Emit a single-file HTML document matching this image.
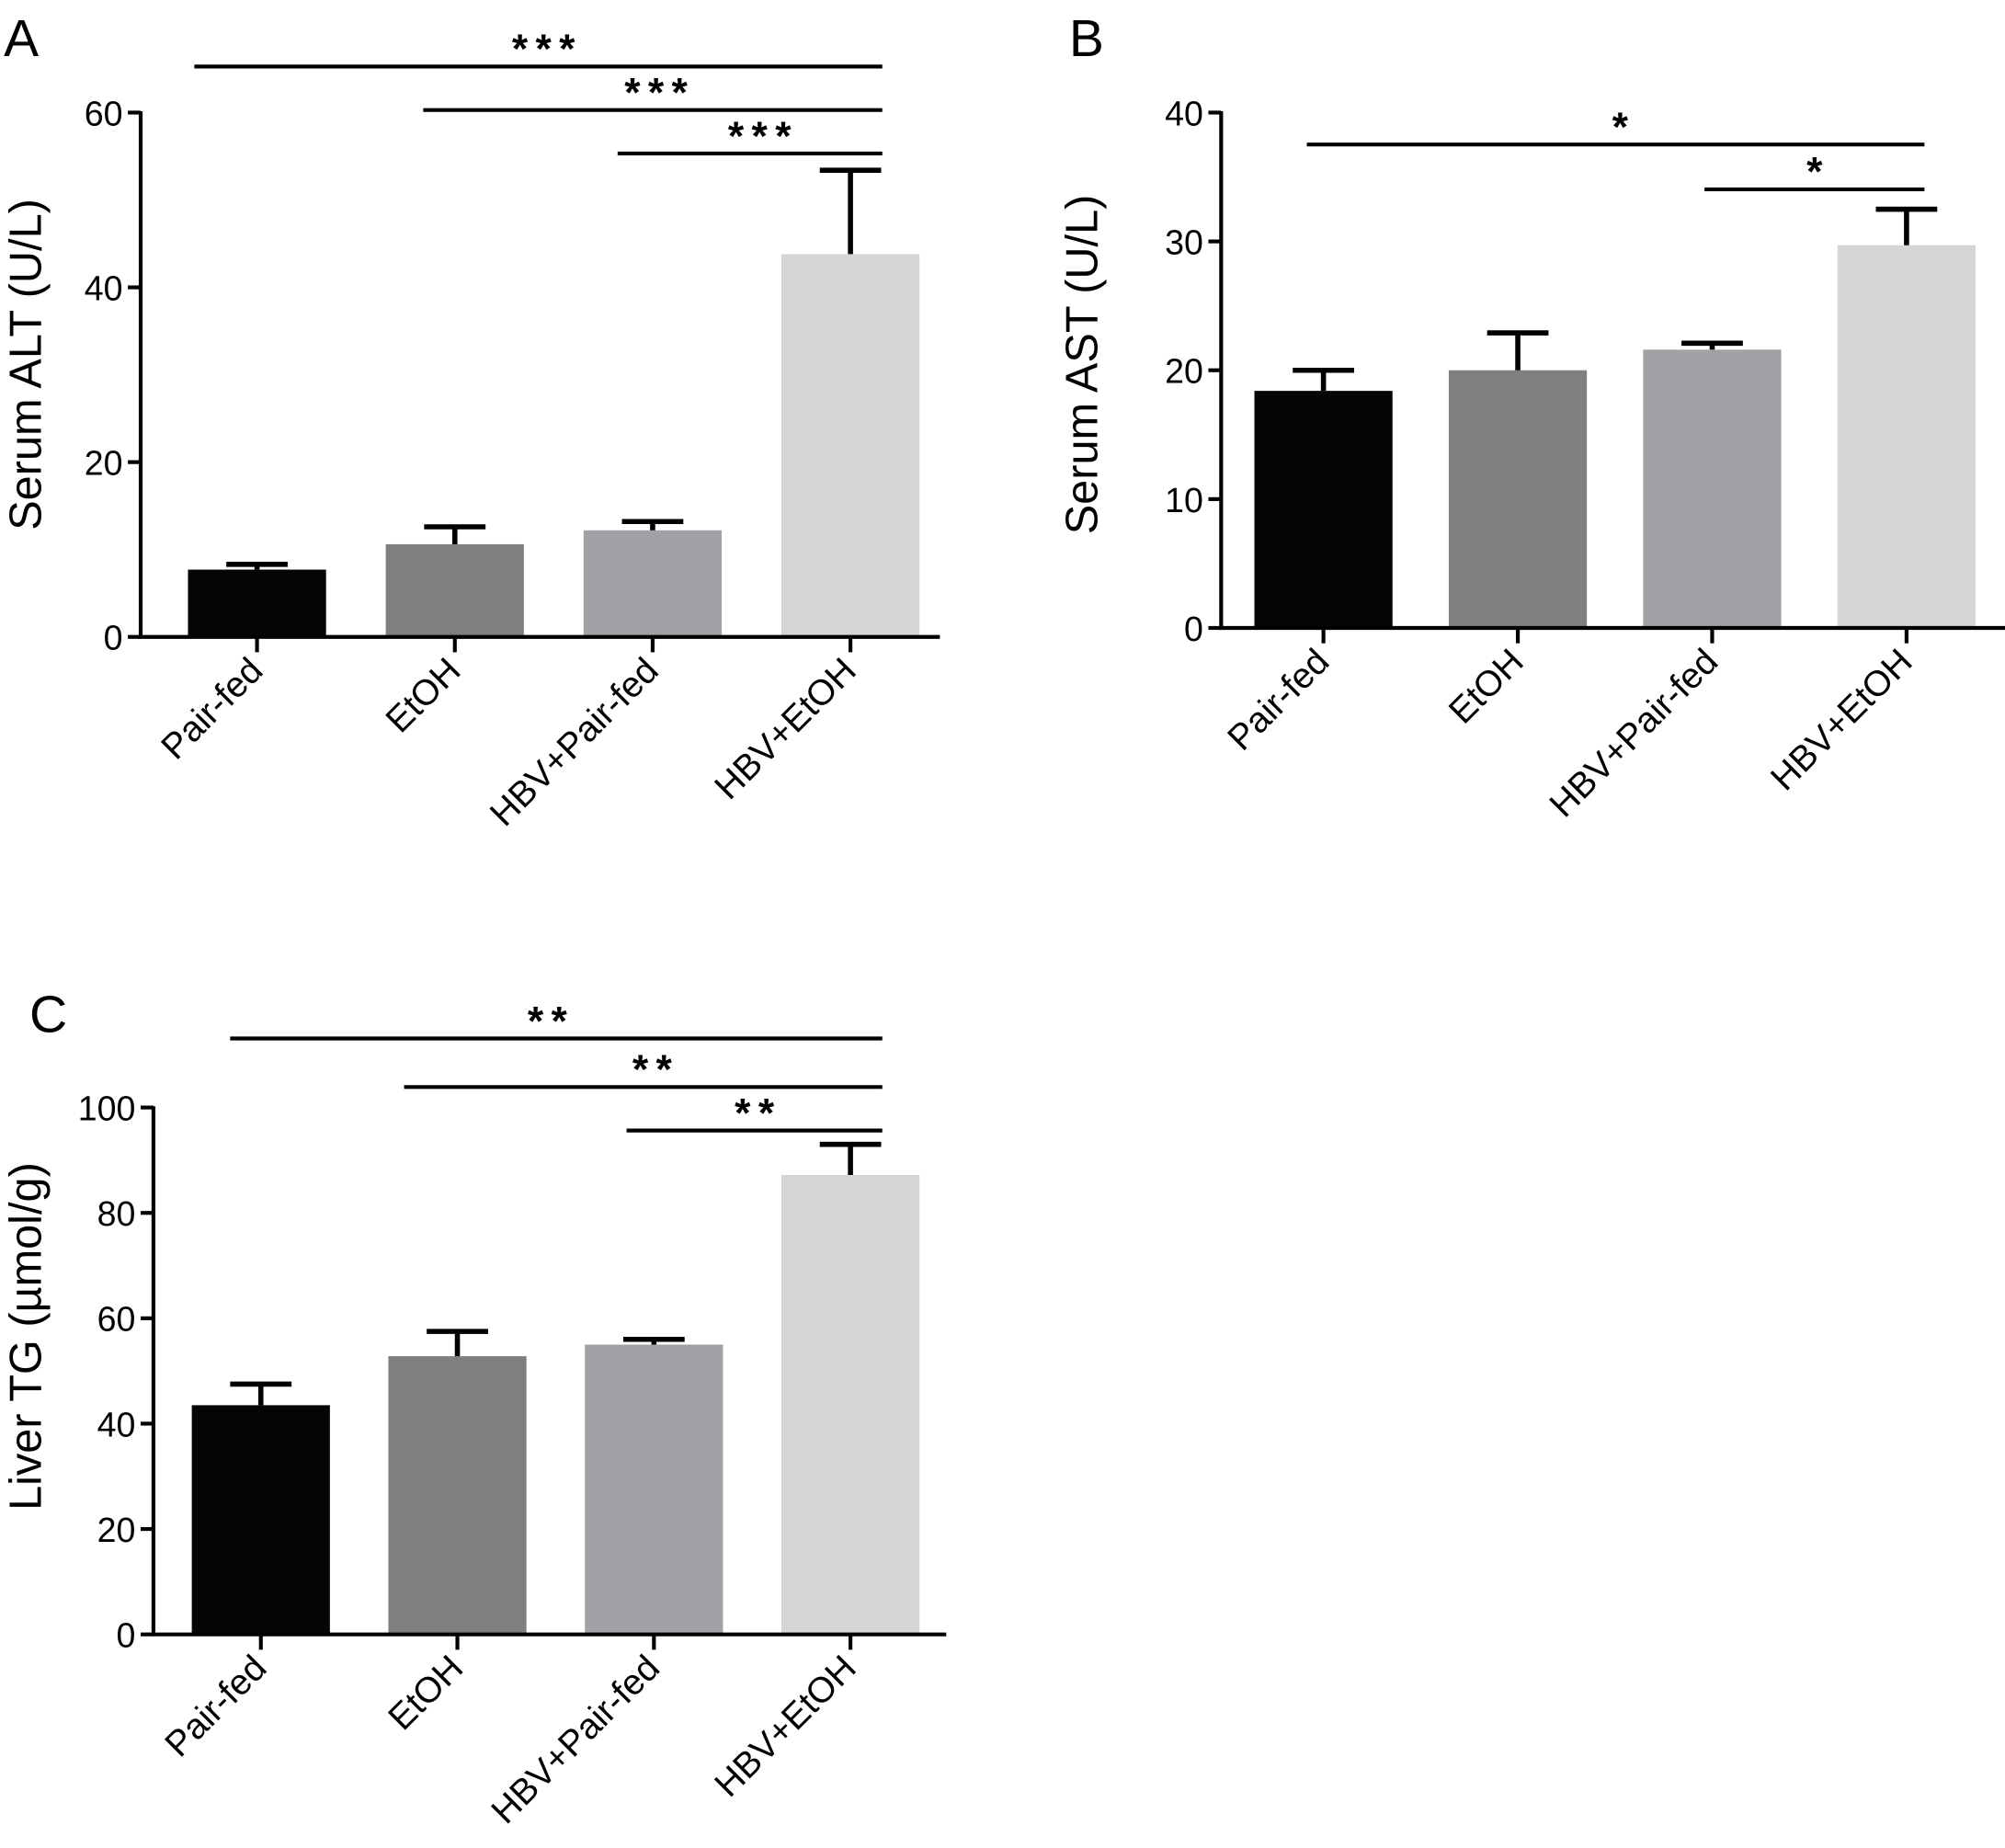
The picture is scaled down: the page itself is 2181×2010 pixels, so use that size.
<!DOCTYPE html>
<html><head><meta charset="utf-8"><style>html,body{margin:0;padding:0;background:#fff}svg{display:block}</style></head>
<body>
<svg id="fig" width="2181" height="2010" viewBox="0 0 1568 1445" xmlns="http://www.w3.org/2000/svg" font-family="Liberation Sans, Arial, sans-serif"></svg>
<script>
const categories = ["Pair-fed","EtOH","HBV+Pair-fed","HBV+EtOH"];
const colors = ["#050505","#7e807e","#a2a2a6","#d5d5d5"];
const altValues = [7.7, 10.6, 12.2, 43.8];
const altErrors = [0.6, 2.0, 1.0, 9.6];
const altTicks = [0,20,40,60];
const astValues = [18.4, 20.0, 21.6, 29.7];
const astErrors = [1.6, 2.9, 0.5, 2.8];
const astTicks = [0,10,20,30,40];
const tgValues = [43.5, 52.8, 55.0, 87.2];
const tgErrors = [4.0, 4.7, 1.0, 5.8];
const tgTicks = [0,20,40,60,80,100];

const NS="http://www.w3.org/2000/svg";
const svg=document.getElementById('fig');
function mk(tag,attrs,parent){const e=document.createElementNS(NS,tag);for(const k in attrs)e.setAttribute(k,attrs[k]);(parent||svg).appendChild(e);return e;}

function panel(cfg){
  const g=mk('g',{});
  
  
  const y=v=>cfg.y0-(v-0)*(cfg.y0-cfg.yTop)/cfg.yMax;
  const x=i=>cfg.x0+i*cfg.step;
  cfg.values.forEach((v,i)=>{
    const cx=x(i);
    const r=mk('rect',{x:cx-54,y:y(v),width:108,height:cfg.y0-y(v),fill:colors[i]},g);
    
    
    const et=y(v+cfg.errs[i]);
    const eb=mk('path',{d:`M${cx},${y(v)} L${cx},${et} M${cx-24},${et} L${cx+24},${et}`,stroke:'#000','stroke-width':4,fill:'none'},g);
    
    
  });
  const ax=mk('path',{d:`M${cfg.axX},${cfg.yTop-1} L${cfg.axX},${cfg.y0} L${cfg.xEnd},${cfg.y0}`,stroke:'#000','stroke-width':3,fill:'none'},g);
  
  
  cfg.ticks.forEach(t=>{
    mk('line',{x1:cfg.axX-10,x2:cfg.axX,y1:y(t),y2:y(t),stroke:'#000','stroke-width':3},g);
    const tl=mk('text',{x:cfg.axX-14,y:y(t)+10,'text-anchor':'end','font-size':27},g);
    tl.textContent=t;
    
    
  });
  categories.forEach((c,i)=>{
    const cx=x(i);
    mk('line',{x1:cx,x2:cx,y1:cfg.y0,y2:cfg.y0+12,stroke:'#000','stroke-width':3},g);
    const tl=mk('text',{x:cx+6,y:cfg.y0+28,'text-anchor':'end','font-size':28,transform:`rotate(-45 ${cx+6} ${cfg.y0+28})`},g);
    tl.textContent=c;
    
    
  });
  const yl=mk('text',{x:cfg.labX,y:cfg.labY,'text-anchor':'middle','font-size':35,transform:`rotate(-90 ${cfg.labX} ${cfg.labY})`},g);
  yl.textContent=cfg.label;
  
  
  const L=mk('text',{x:cfg.letX,y:cfg.letY,'font-size':41},g);
  L.textContent=cfg.id;
  
  
  cfg.sig.forEach(s=>{
    mk('line',{x1:s[0],x2:s[1],y1:s[2],y2:s[2],stroke:'#000','stroke-width':3},g);
    const st=mk('text',{x:s[3],y:s[2]-3,'text-anchor':'middle','font-size':32,'font-weight':'bold','letter-spacing':6},g);
    st.textContent=s[4];
    
    
  });
}
panel({id:'A',values:altValues,errs:altErrors,ticks:altTicks,yMax:60,y0:498,yTop:88,axX:110,xEnd:735,x0:201,step:154.7,
  label:'Serum ALT (U/L)',labX:32,labY:285,letX:3,letY:44,
  sig:[[152,690,52,428,'***'],[331,690,86,516,'***'],[483,690,120,597,'***']]});
panel({id:'B',values:astValues,errs:astErrors,ticks:astTicks,yMax:40,y0:491,yTop:88,axX:955,xEnd:1568,x0:1035,step:152,
  label:'Serum AST (U/L)',labX:858,labY:285,letX:836,letY:44,
  sig:[[1022,1505,113,1270,'*'],[1333,1505,148,1422,'*']]});
panel({id:'C',values:tgValues,errs:tgErrors,ticks:tgTicks,yMax:100,y0:1278,yTop:866,axX:120,xEnd:740,x0:204,step:153.7,
  label:'Liver TG (\u00b5mol/g)',labX:32,labY:1045,letX:23,letY:807,
  sig:[[180,690,812,431,'**'],[316,690,850,513,'**'],[490,690,884,593,'**']]});
</script>
</body></html>
